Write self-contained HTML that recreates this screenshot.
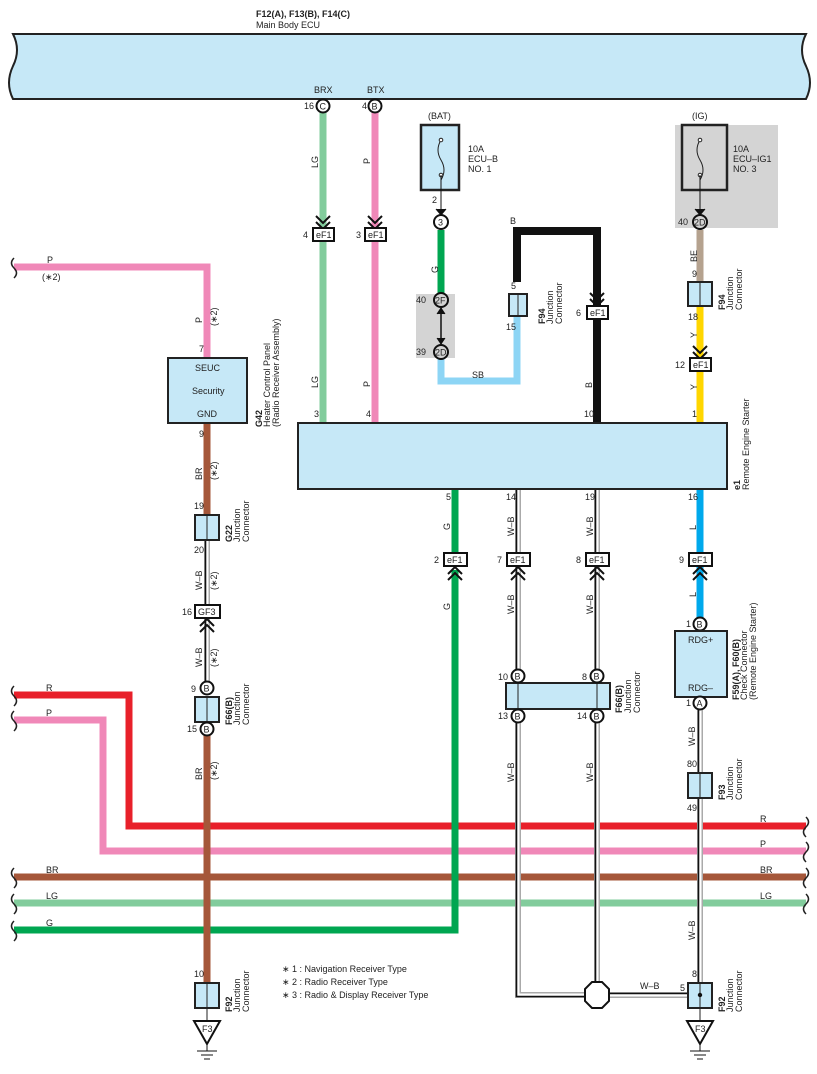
<!DOCTYPE html>
<html><head><meta charset="utf-8"><style>
body{margin:0;background:#fff}
svg{display:block;font-family:"Liberation Sans",sans-serif}
text{font-size:9px;fill:#222}
.b{font-weight:bold}
.c{fill:#fff;stroke:#111;stroke-width:2}
.bx{fill:#fff;stroke:#111;stroke-width:2}
.jc{fill:#c6e8f7;stroke:#222;stroke-width:2}
.ch{fill:none;stroke:#111;stroke-width:2}
</style></head><body>
<svg width="817" height="1074" viewBox="0 0 817 1074" xmlns="http://www.w3.org/2000/svg">
<!-- ECU bar -->
<text x="256" y="17" class="b">F12(A), F13(B), F14(C)</text>
<text x="256" y="28">Main Body ECU</text>
<path d="M13,34 L806,34 Q798,50 806,66 Q814,83 806,99 L13,99 Q5,83 13,66 Q21,50 13,34 Z" fill="#c6e8f7" stroke="#222" stroke-width="2"/>
<text x="314" y="93">BRX</text><text x="367" y="93">BTX</text>

<g fill="none" stroke-width="7">
<path d="M14,695 H129 V826 H806" stroke="#e8202a"/>
<path d="M14,720 H103 V851 H806" stroke="#f088b8"/>
<path d="M14,877 H806" stroke="#a5573a"/>
<path d="M14,903 H806" stroke="#82cc9c"/>
<path d="M14,930 H455 V570" stroke="#00a651"/>
<path d="M14,267 H207 V358" stroke="#f088b8"/>
<path d="M323,112 V423" stroke="#82cc9c"/>
<path d="M375,112 V423" stroke="#f088b8"/>
<path d="M441,230 V300" stroke="#00a651"/>
<path d="M441,358 V381 H517 V316" stroke="#8dd5f5"/>
<path d="M517,282 V231 H597 V423" stroke="#111" stroke-width="8"/>
<path d="M700,230 V282" stroke="#b5a28f"/>
<path d="M700,306 V423" stroke="#ffd600"/>
<path d="M455,489 V556" stroke="#00a651"/>
<path d="M700,489 V618" stroke="#00a9ec"/>
<path d="M207,423 V515" stroke="#a5573a"/>
<path d="M207,735 V983" stroke="#a5573a"/>
</g>
<!-- W-B wires -->
<g fill="none">
<g stroke="#aaa" stroke-width="6">
<path d="M207,540 V683"/><path d="M518,489 V995 H597"/><path d="M597,489 V995"/><path d="M597,995 H700 V983"/><path d="M700,710 V983"/>
</g>
<g stroke="#fff" stroke-width="3">
<path d="M207,540 V683"/><path d="M518,489 V995 H597"/><path d="M597,489 V995"/><path d="M597,995 H700 V983"/><path d="M700,710 V983"/>
</g>
<g stroke="#111" stroke-width="1.6">
<path d="M205.5,540 V683"/><path d="M516.5,489 V996.5 H597"/><path d="M595.5,489 V995"/><path d="M597,993.5 H698.5 V983"/><path d="M698.5,710 V983"/>
</g>
</g>

<circle cx="323" cy="106" r="6.5" class="c"/><text x="319.5" y="109.5">C</text><text x="304" y="109">16</text>
<circle cx="375" cy="106" r="6.5" class="c"/><text x="371.5" y="109.5">B</text><text x="362" y="109">4</text>
<text x="318" y="168" transform="rotate(-90 318 168)">LG</text>
<text x="370" y="164" transform="rotate(-90 370 164)">P</text>
<text x="318" y="388" transform="rotate(-90 318 388)">LG</text>
<text x="370" y="387" transform="rotate(-90 370 387)">P</text>
<text x="314" y="417">3</text><text x="366" y="417">4</text>

<polyline points="316,216 323,223 330,216" class="ch"/><polyline points="316,222 323,229 330,222" class="ch"/>
<rect x="313" y="228" width="21" height="13" class="bx"/><text x="316" y="238">eF1</text><text x="303" y="238">4</text>
<polyline points="368,216 375,223 382,216" class="ch"/><polyline points="368,222 375,229 382,222" class="ch"/>
<rect x="365" y="228" width="21" height="13" class="bx"/><text x="368" y="238">eF1</text><text x="356" y="238">3</text>

<!-- BAT fuse -->
<text x="428" y="119">(BAT)</text>
<rect x="421" y="125" width="38" height="65" class="jc" style="stroke-width:2.5"/>
<path d="M441,140 q-6,10 0,20 q6,10 0,20" fill="none" stroke="#222"/>
<circle cx="441" cy="140" r="1.8" fill="#fff" stroke="#222"/><circle cx="441" cy="175" r="1.8" fill="#fff" stroke="#222"/>
<line x1="441" y1="175" x2="441" y2="214" stroke="#111"/>
<polyline points="436,209 441,215 446,209" fill="#111" stroke="#111"/>
<text x="468" y="152">10A</text><text x="468" y="162">ECU–B</text><text x="468" y="172">NO. 1</text>
<text x="432" y="203">2</text>
<circle cx="441" cy="222" r="7" class="c"/><text x="438" y="225.5">3</text>
<text x="438" y="273" transform="rotate(-90 438 273)">G</text>
<rect x="416" y="294" width="39" height="64" fill="#d4d4d4"/>
<circle cx="441" cy="300" r="7" style="fill:#d4d4d4;stroke:#111;stroke-width:2"/><text x="435" y="303.5">2F</text><text x="416" y="303">40</text>
<circle cx="441" cy="352" r="7" style="fill:#d4d4d4;stroke:#111;stroke-width:2"/><text x="435" y="355.5">2D</text><text x="416" y="355">39</text>
<line x1="441" y1="308" x2="441" y2="344" stroke="#111" stroke-width="1.5"/>
<polyline points="437,314 441,308 445,314" fill="#111" stroke="#111"/><polyline points="437,338 441,344 445,338" fill="#111" stroke="#111"/>
<text x="472" y="378">SB</text>

<text x="510" y="224">B</text>
<rect x="509" y="294" width="18" height="22" class="jc"/><line x1="518" y1="294" x2="518" y2="316" stroke="#222"/>
<text x="511" y="289">5</text><text x="506" y="330">15</text>
<text class="b" x="545" y="324" transform="rotate(-90 545 324)">F94</text>
<text x="553" y="324" transform="rotate(-90 553 324)">Junction</text>
<text x="562" y="324" transform="rotate(-90 562 324)">Connector</text>
<polyline points="590,293 597,300 604,293" class="ch"/><polyline points="590,299 597,306 604,299" class="ch"/>
<rect x="587" y="306" width="21" height="13" class="bx"/><text x="590" y="316">eF1</text><text x="576" y="316">6</text>
<text x="592" y="388" transform="rotate(-90 592 388)">B</text>
<text x="584" y="417">10</text>

<!-- IG fuse -->
<text x="692" y="119">(IG)</text>
<rect x="675" y="125" width="103" height="103" fill="#d4d4d4"/>
<rect x="682" y="125" width="45" height="65" style="fill:#d4d4d4;stroke:#222;stroke-width:2.5"/>
<path d="M700,140 q-6,10 0,20 q6,10 0,20" fill="none" stroke="#222"/>
<circle cx="700" cy="140" r="1.8" fill="#fff" stroke="#222"/><circle cx="700" cy="175" r="1.8" fill="#fff" stroke="#222"/>
<line x1="700" y1="175" x2="700" y2="214" stroke="#111"/>
<polyline points="695,209 700,215 705,209" fill="#111" stroke="#111"/>
<text x="733" y="152">10A</text><text x="733" y="162">ECU–IG1</text><text x="733" y="172">NO. 3</text>
<circle cx="700" cy="222" r="7" style="fill:#d4d4d4;stroke:#111;stroke-width:2"/><text x="694" y="225.5">2D</text><text x="678" y="225">40</text>
<text x="697" y="262" transform="rotate(-90 697 262)">BE</text>
<text x="692" y="277">9</text>
<rect x="688" y="282" width="24" height="24" class="jc"/><line x1="700" y1="282" x2="700" y2="306" stroke="#222"/>
<text x="688" y="320">18</text>
<text class="b" x="725" y="310" transform="rotate(-90 725 310)">F94</text>
<text x="733" y="310" transform="rotate(-90 733 310)">Junction</text>
<text x="742" y="310" transform="rotate(-90 742 310)">Connector</text>
<text x="697" y="338" transform="rotate(-90 697 338)">Y</text>
<polyline points="693,346 700,353 707,346" class="ch"/><polyline points="693,352 700,359 707,352" class="ch"/>
<rect x="690" y="358" width="21" height="13" class="bx"/><text x="693" y="368">eF1</text><text x="675" y="368">12</text>
<text x="697" y="390" transform="rotate(-90 697 390)">Y</text>
<text x="692" y="417">1</text>

<!-- Heater control panel -->
<text x="47" y="263">P</text><text x="42" y="280">(∗2)</text>
<text x="202" y="323" transform="rotate(-90 202 323)">P</text>
<text x="217" y="326" transform="rotate(-90 217 326)">(∗2)</text>
<text x="199" y="352">7</text>
<rect x="168" y="358" width="79" height="65" class="jc"/>
<text x="195" y="371">SEUC</text><text x="192" y="394">Security</text><text x="197" y="417">GND</text>
<text class="b" x="262" y="427" transform="rotate(-90 262 427)">G42</text>
<text x="270" y="427" transform="rotate(-90 270 427)">Heater Control Panel</text>
<text x="279" y="427" transform="rotate(-90 279 427)">(Radio Receiver Assembly)</text>
<text x="199" y="437">9</text>
<text x="202" y="480" transform="rotate(-90 202 480)">BR</text>
<text x="217" y="480" transform="rotate(-90 217 480)">(∗2)</text>
<text x="194" y="509">19</text>
<rect x="195" y="515" width="24" height="25" class="jc"/><line x1="207" y1="515" x2="207" y2="540" stroke="#222"/>
<text x="194" y="553">20</text>
<text class="b" x="232" y="542" transform="rotate(-90 232 542)">G22</text>
<text x="240" y="542" transform="rotate(-90 240 542)">Junction</text>
<text x="249" y="542" transform="rotate(-90 249 542)">Connector</text>
<text x="202" y="590" transform="rotate(-90 202 590)">W–B</text>
<text x="217" y="590" transform="rotate(-90 217 590)">(∗2)</text>
<rect x="195" y="605" width="25" height="13" class="bx"/><text x="198" y="615">GF3</text><text x="182" y="615">16</text>
<polyline points="200,626 207,619 214,626" class="ch"/><polyline points="200,632 207,625 214,632" class="ch"/>
<text x="202" y="667" transform="rotate(-90 202 667)">W–B</text>
<text x="217" y="667" transform="rotate(-90 217 667)">(∗2)</text>
<circle cx="207" cy="688" r="6.5" class="c"/><text x="203.5" y="691.5">B</text><text x="191" y="692">9</text>
<rect x="195" y="697" width="24" height="25" class="jc"/><line x1="207" y1="697" x2="207" y2="722" stroke="#222"/>
<circle cx="207" cy="729" r="6.5" class="c"/><text x="203.5" y="732.5">B</text><text x="187" y="732">15</text>
<text class="b" x="232" y="725" transform="rotate(-90 232 725)">F66(B)</text>
<text x="240" y="725" transform="rotate(-90 240 725)">Junction</text>
<text x="249" y="725" transform="rotate(-90 249 725)">Connector</text>
<text x="202" y="780" transform="rotate(-90 202 780)">BR</text>
<text x="217" y="780" transform="rotate(-90 217 780)">(∗2)</text>
<text x="46" y="691">R</text><text x="46" y="716">P</text>
<text x="46" y="873">BR</text><text x="46" y="899">LG</text><text x="46" y="926">G</text>
<text x="760" y="822">R</text><text x="760" y="847">P</text><text x="760" y="873">BR</text><text x="760" y="899">LG</text>
<g fill="none" stroke="#222" stroke-width="1.5">
<path d="M14,258 q-5,5 0,10 q5,5 0,10"/>
<path d="M14,686 q-5,5 0,10 q5,5 0,10"/>
<path d="M14,711 q-5,5 0,10 q5,5 0,10"/>
<path d="M14,868 q-5,5 0,10 q5,5 0,10"/>
<path d="M14,894 q-5,5 0,10 q5,5 0,10"/>
<path d="M14,921 q-5,5 0,10 q5,5 0,10"/>
<path d="M806,817 q5,5 0,10 q-5,5 0,10"/>
<path d="M806,842 q5,5 0,10 q-5,5 0,10"/>
<path d="M806,868 q5,5 0,10 q-5,5 0,10"/>
<path d="M806,894 q5,5 0,10 q-5,5 0,10"/>
</g>

<rect x="298" y="423" width="429" height="66" class="jc"/>
<text class="b" x="740" y="490" transform="rotate(-90 740 490)">e1</text>
<text x="749" y="490" transform="rotate(-90 749 490)">Remote Engine Starter</text>
<text x="446" y="500">5</text><text x="506" y="500">14</text><text x="585" y="500">19</text><text x="688" y="500">16</text>
<text x="450" y="530" transform="rotate(-90 450 530)">G</text>
<text x="514" y="536" transform="rotate(-90 514 536)">W–B</text>
<text x="593" y="536" transform="rotate(-90 593 536)">W–B</text>
<text x="696" y="530" transform="rotate(-90 696 530)">L</text>
<g>
<rect x="444" y="553" width="23" height="13" class="bx"/><text x="447" y="563">eF1</text><text x="434" y="563">2</text>
<polyline points="448,574 455,567 462,574" class="ch"/><polyline points="448,580 455,573 462,580" class="ch"/>
<rect x="507" y="553" width="23" height="13" class="bx"/><text x="510" y="563">eF1</text><text x="497" y="563">7</text>
<polyline points="511,574 518,567 525,574" class="ch"/><polyline points="511,580 518,573 525,580" class="ch"/>
<rect x="586" y="553" width="23" height="13" class="bx"/><text x="589" y="563">eF1</text><text x="576" y="563">8</text>
<polyline points="590,574 597,567 604,574" class="ch"/><polyline points="590,580 597,573 604,580" class="ch"/>
<rect x="689" y="553" width="23" height="13" class="bx"/><text x="692" y="563">eF1</text><text x="679" y="563">9</text>
<polyline points="693,574 700,567 707,574" class="ch"/><polyline points="693,580 700,573 707,580" class="ch"/>
</g>
<text x="450" y="610" transform="rotate(-90 450 610)">G</text>
<text x="514" y="614" transform="rotate(-90 514 614)">W–B</text>
<text x="593" y="614" transform="rotate(-90 593 614)">W–B</text>
<text x="696" y="597" transform="rotate(-90 696 597)">L</text>

<rect x="506" y="683" width="104" height="26" class="jc"/>
<line x1="518" y1="683" x2="518" y2="709" stroke="#222"/><line x1="597" y1="683" x2="597" y2="709" stroke="#222"/>
<circle cx="518" cy="676" r="6.5" class="c"/><text x="514.5" y="679.5">B</text><text x="498" y="680">10</text>
<circle cx="597" cy="676" r="6.5" class="c"/><text x="593.5" y="679.5">B</text><text x="582" y="680">8</text>
<circle cx="518" cy="716" r="6.5" class="c"/><text x="514.5" y="719.5">B</text><text x="498" y="719">13</text>
<circle cx="597" cy="716" r="6.5" class="c"/><text x="593.5" y="719.5">B</text><text x="577" y="719">14</text>
<text class="b" x="622" y="713" transform="rotate(-90 622 713)">F66(B)</text>
<text x="631" y="713" transform="rotate(-90 631 713)">Junction</text>
<text x="640" y="713" transform="rotate(-90 640 713)">Connector</text>
<text x="514" y="782" transform="rotate(-90 514 782)">W–B</text>
<text x="593" y="782" transform="rotate(-90 593 782)">W–B</text>

<circle cx="700" cy="624" r="6.5" class="c"/><text x="696.5" y="627.5">B</text><text x="686" y="627">1</text>
<rect x="675" y="631" width="52" height="66" class="jc"/>
<text x="688" y="643">RDG+</text><text x="688" y="691">RDG–</text>
<circle cx="700" cy="703" r="6.5" class="c"/><text x="696.5" y="706.5">A</text><text x="686" y="706">1</text>
<text class="b" x="739" y="700" transform="rotate(-90 739 700)">F59(A), F60(B)</text>
<text x="747" y="700" transform="rotate(-90 747 700)">Check Connector</text>
<text x="756" y="700" transform="rotate(-90 756 700)">(Remote Engine Starter)</text>
<text x="695" y="746" transform="rotate(-90 695 746)">W–B</text>
<text x="687" y="767">80</text>
<rect x="688" y="773" width="24" height="25" class="jc"/><line x1="700" y1="773" x2="700" y2="798" stroke="#222"/>
<text x="687" y="811">49</text>
<text class="b" x="725" y="800" transform="rotate(-90 725 800)">F93</text>
<text x="733" y="800" transform="rotate(-90 733 800)">Junction</text>
<text x="742" y="800" transform="rotate(-90 742 800)">Connector</text>
<text x="695" y="940" transform="rotate(-90 695 940)">W–B</text>

<polygon points="592,982 602,982 609,989 609,1001 602,1008 592,1008 585,1001 585,989" fill="#fff" stroke="#111" stroke-width="2"/>
<text x="640" y="989">W–B</text><text x="680" y="991">5</text><text x="692" y="977">8</text>

<rect x="688" y="983" width="24" height="25" class="jc"/><line x1="700" y1="983" x2="700" y2="1021" stroke="#222"/>
<circle cx="700" cy="995" r="2.2" fill="#111"/>
<text class="b" x="725" y="1012" transform="rotate(-90 725 1012)">F92</text>
<text x="733" y="1012" transform="rotate(-90 733 1012)">Junction</text>
<text x="742" y="1012" transform="rotate(-90 742 1012)">Connector</text>
<polygon points="687,1021 713,1021 700,1044" fill="#fff" stroke="#111" stroke-width="2"/><text x="695" y="1032">F3</text>
<line x1="700" y1="1044" x2="700" y2="1051" stroke="#111"/>
<line x1="690" y1="1051" x2="710" y2="1051" stroke="#111"/><line x1="694" y1="1055" x2="706" y2="1055" stroke="#111"/><line x1="697" y1="1059" x2="703" y2="1059" stroke="#111"/>

<text x="194" y="977">10</text>
<rect x="195" y="983" width="24" height="25" class="jc"/><line x1="207" y1="983" x2="207" y2="1021" stroke="#222"/>
<text class="b" x="232" y="1012" transform="rotate(-90 232 1012)">F92</text>
<text x="240" y="1012" transform="rotate(-90 240 1012)">Junction</text>
<text x="249" y="1012" transform="rotate(-90 249 1012)">Connector</text>
<polygon points="194,1021 220,1021 207,1044" fill="#fff" stroke="#111" stroke-width="2"/><text x="202" y="1032">F3</text>
<line x1="207" y1="1044" x2="207" y2="1051" stroke="#111"/>
<line x1="197" y1="1051" x2="217" y2="1051" stroke="#111"/><line x1="201" y1="1055" x2="213" y2="1055" stroke="#111"/><line x1="204" y1="1059" x2="210" y2="1059" stroke="#111"/>

<text x="282" y="972">∗ 1 : Navigation Receiver Type</text>
<text x="282" y="985">∗ 2 : Radio Receiver Type</text>
<text x="282" y="998">∗ 3 : Radio &amp; Display Receiver Type</text>
</svg>
</body></html>
